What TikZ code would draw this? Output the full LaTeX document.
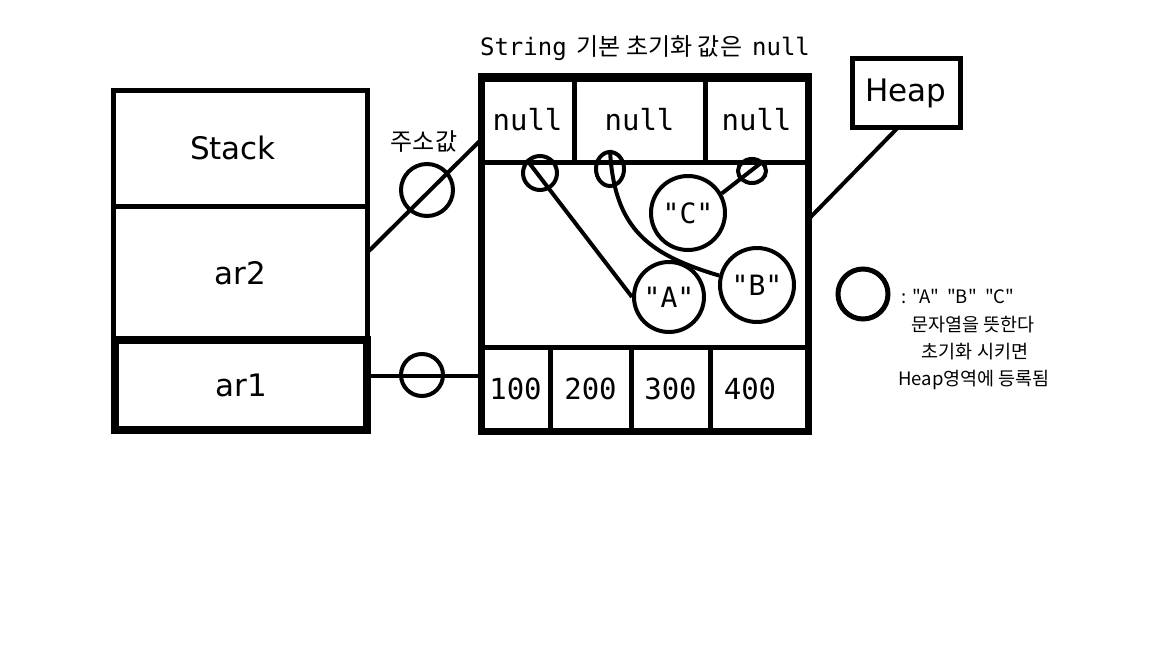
\documentclass[tikz,border=0pt]{standalone}
\usepackage{fontspec}
\setmainfont{DejaVu Sans}
\newfontfamily\mono{DejaVu Sans Mono}
\newfontfamily\kr{Noto Sans CJK KR}
\usetikzlibrary{shapes.geometric}
\begin{document}
\begin{tikzpicture}[x=1pt,y=-1pt,
  cell/.style={draw, line width=5pt, inner sep=0pt, outer sep=0pt, rectangle},
  ring/.style={draw, circle, line width=4pt, inner sep=0pt},
  oval/.style={draw, ellipse, line width=4pt, inner sep=0pt},
  wire/.style={line width=4pt},
  big/.style={font=\fontsize{31}{34}\selectfont},
  monof/.style={font=\mono\fontsize{29}{32}\selectfont},
  strf/.style={font=\mono\fontsize{28}{32}\selectfont},
  legf/.style={font=\kr\fontsize{18.5}{22}\selectfont, inner sep=0pt},
]
\useasboundingbox (0,0) rectangle (1152,648);
\fill[white] (0,0) rectangle (1152,648);

% Stack column
\node[cell, big, minimum width=254pt, minimum height=116pt] (stack) at (240,148) {Stack\kern14pt};
\node[cell, big, minimum width=254pt, minimum height=134pt] (ar2) at (240,273) {ar2};
\node[cell, big, line width=8pt, minimum width=252pt, minimum height=90pt] (ar1) at (241,385) {ar1};

% Heap array area
\node[cell, monof, minimum width=93pt, minimum height=84pt] (n1) at (527.5,120) {null};
\node[cell, monof, minimum width=131pt, minimum height=84pt] (n2) at (639.5,120) {null};
\node[cell, monof, minimum width=103pt, minimum height=84pt] (n3) at (756.5,120) {null};
\node[cell, minimum width=327pt, minimum height=185pt] (mid) at (644.5,254.5) {};
\node[cell, monof, minimum width=69pt, minimum height=83pt] (c1) at (515.5,388.5) {100};
\node[cell, monof, minimum width=81pt, minimum height=83pt] (c2) at (590.5,388.5) {200};
\node[cell, monof, minimum width=79pt, minimum height=83pt] (c3) at (670.5,388.5) {300};
\node[cell, monof, minimum width=98pt, minimum height=83pt] (c4) at (759,388.5) {400\kern18pt};
\draw[line width=7pt] (481,78) rectangle (808.5,431);
\draw[line width=9pt] (478,77.5) -- (812,77.5);

% Title
\node[font=\fontsize{24}{26}\selectfont] (title) at (645,48) {{\mono String}\kern10pt{\kr 기본 초기화 값은}\kern10pt{\mono null}};

% Strings in heap
\node[ring, minimum size=34pt] (s1) at (540,173) {};
\node[oval, minimum width=28pt, minimum height=34pt] (s2) at (610,169) {};
\node[oval, minimum width=28pt, minimum height=24pt] (s3) at (752,171) {};
\node[ring, strf, minimum size=70pt] (A) at (669,297) {"A"};
\node[ring, strf, minimum size=74pt] (B) at (757,285) {"B"};
\node[ring, strf, minimum size=74pt] (C) at (688,213) {"C"};
\draw[wire] (s1.north west) -- (A.west);
\draw[wire] (s2.north) .. controls (614,230) and (650,255) .. (B.166);
\draw[wire] (C.30) -- (s3.north east);

% References from stack
\node[ring, minimum size=52pt] (addr) at (427,190) {};
\node[font=\kr\fontsize{24}{28}\selectfont] (addrlbl) at (424,141) {주소값};
\draw[wire] (ar2.9) -- (n1.203);
\node[ring, minimum size=42pt] (addr2) at (422,375) {};
\draw[wire] (ar1.4.5) -- (ar1.4.5 -| c1.west);

% Heap label
\node[cell, big, minimum width=108pt, minimum height=69pt] (heap) at (906,93) {Heap};
\draw[wire] (heap.257) -- (mid.12.6);

% Legend
\node[ring, line width=5pt, minimum size=50pt] (leg) at (863,294) {};
\node[legf] (lg1) at (958,296) {: "A"\ \ "B"\ \ "C"};
\node[legf] (lg2) at (973,325) {문자열을 뜻한다};
\node[legf] (lg3) at (975,352) {초기화 시키면};
\node[legf] (lg4) at (974,380) {Heap영역에 등록됨};
\end{tikzpicture}
\end{document}
